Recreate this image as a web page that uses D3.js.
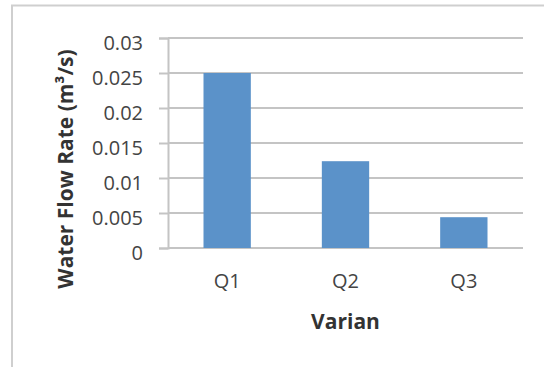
<!DOCTYPE html>
<html>
<head>
<meta charset="utf-8">
<script src="https://cdn.jsdelivr.net/npm/d3@7"></script>
<style>
  html, body { margin: 0; padding: 0; background: #fff; }
  svg { display: block; }
</style>
</head>
<body>
<svg id="chart" width="544" height="367"></svg>
<script>
// Flow rate per variant
const categories = ["Q1", "Q2", "Q3"];
const flowRates = [0.025, 0.0124, 0.0044];
const yTicks = [0, 0.005, 0.01, 0.015, 0.02, 0.025, 0.03];
const yTickLabels = ["0", "0.005", "0.01", "0.015", "0.02", "0.025", "0.03"];
const xTitle = "Varian";
const yTitle = "Water Flow Rate (m³/s)";

const svg = d3.select("#chart");
const font = "'Open Sans', 'Liberation Sans', sans-serif";

const plot = { left: 168, right: 523, top: 38, bottom: 248 };

// Chart area frame
svg.append("rect")
  .attr("x", 12).attr("y", 5.5)
  .attr("width", 560).attr("height", 400)
  .attr("fill", "#fff")
  .attr("stroke", "#cfcfcf")
  .attr("stroke-width", 2);

const x = d3.scaleBand()
  .domain(categories)
  .range([plot.left, plot.right])
  .paddingInner(0.6)
  .paddingOuter(0.3);

const y = d3.scaleLinear()
  .domain([0, 0.03])
  .range([plot.bottom, plot.top]);

// Horizontal gridlines
svg.append("g")
  .selectAll("line")
  .data(yTicks)
  .join("line")
  .attr("x1", plot.left).attr("x2", plot.right)
  .attr("y1", d => y(d)).attr("y2", d => y(d))
  .attr("stroke", "#c4c4c4")
  .attr("stroke-width", 2);

// Y axis with outward ticks
const yAxis = d3.axisLeft(y)
  .tickValues(yTicks)
  .tickFormat((d, i) => yTickLabels[i])
  .tickSize(9)
  .tickPadding(16);

const gy = svg.append("g")
  .attr("transform", `translate(${plot.left},0)`)
  .call(yAxis);
gy.select(".domain").attr("stroke", "#c4c4c4").attr("stroke-width", 2);
gy.selectAll(".tick line").attr("stroke", "#c4c4c4").attr("stroke-width", 2);
gy.selectAll(".tick text")
  .attr("font-family", font)
  .attr("font-size", 20)
  .attr("fill", "#444")
  .attr("dy", "0.55em");

// Bars
svg.append("g")
  .selectAll("rect")
  .data(categories.map((c, i) => ({ c, v: flowRates[i] })))
  .join("rect")
  .attr("x", d => x(d.c))
  .attr("y", d => y(d.v))
  .attr("width", x.bandwidth())
  .attr("height", d => y(0) - y(d.v))
  .attr("fill", "#5b92c9");

// X axis labels
const xAxis = d3.axisBottom(x).tickSize(0).tickPadding(26);
const gx = svg.append("g")
  .attr("transform", `translate(0,${plot.bottom})`)
  .call(xAxis);
gx.select(".domain").remove();
gx.selectAll(".tick text")
  .attr("font-family", font)
  .attr("font-size", 20)
  .attr("fill", "#444");

// Axis titles
svg.append("text")
  .attr("x", (plot.left + plot.right) / 2)
  .attr("y", 329)
  .attr("text-anchor", "middle")
  .attr("font-family", font)
  .attr("font-weight", "bold")
  .attr("font-size", 21)
  .attr("fill", "#333")
  .text(xTitle);

svg.append("text")
  .attr("transform", "translate(73,169) rotate(-90)")
  .attr("text-anchor", "middle")
  .attr("font-family", font)
  .attr("font-weight", "bold")
  .attr("font-size", 21)
  .attr("fill", "#333")
  .text(yTitle);
</script>
</body>
</html>
